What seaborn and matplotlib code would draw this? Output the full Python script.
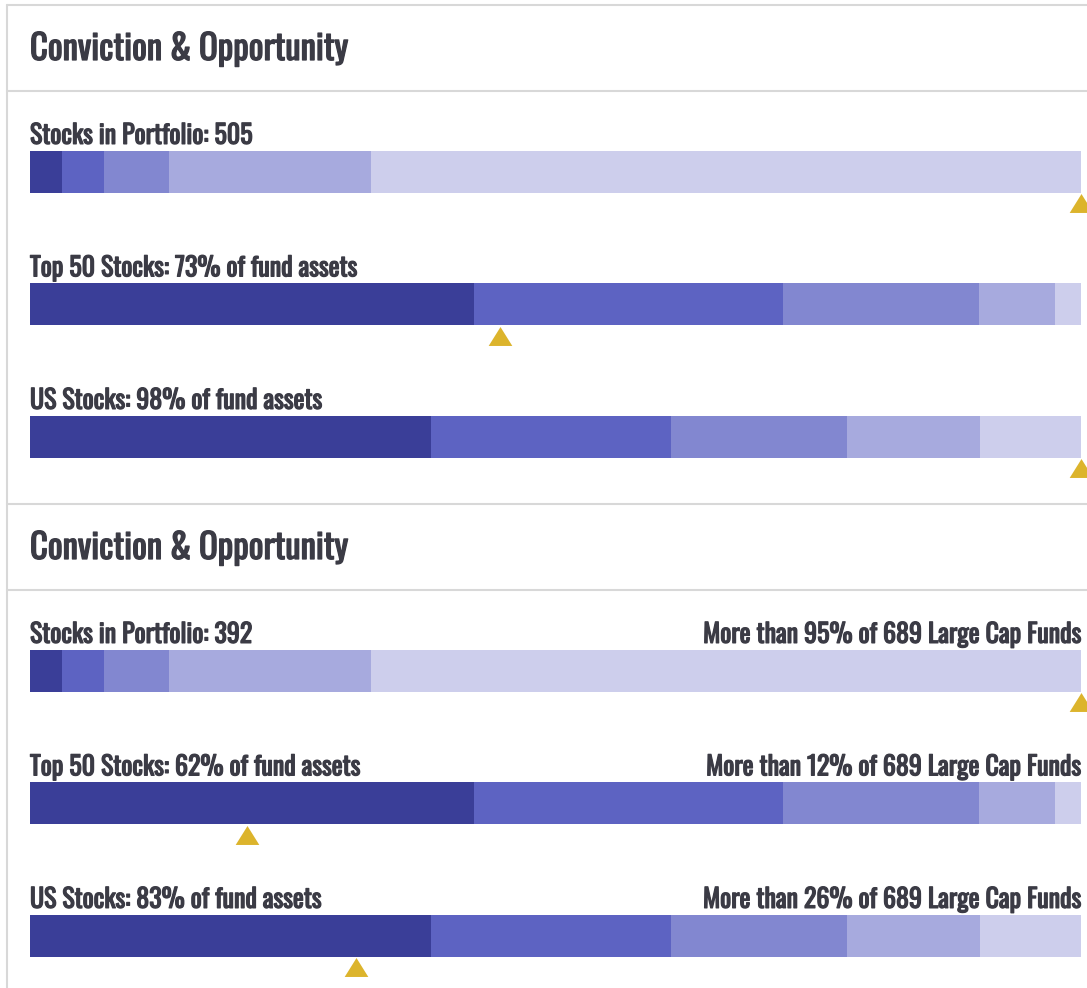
import matplotlib
matplotlib.use("Agg")
import matplotlib.pyplot as plt
from matplotlib.lines import Line2D
import matplotlib.patheffects as pe
import seaborn as sns
import pandas as pd
import numpy as np
from matplotlib import font_manager

sns.set_theme(style="white")
avail = {f.name for f in font_manager.fontManager.ttflist}
chosen = "DejaVu Sans"
for cand in ["Oswald", "Roboto Condensed", "Archivo Narrow", "PT Sans Narrow",
             "Liberation Sans Narrow"]:
    if cand in avail:
        chosen = cand
        break
plt.rcParams["font.family"] = [chosen, "DejaVu Sans"]

# ---------------- data ----------------
panel_titles = ["Conviction & Opportunity", "Conviction & Opportunity"]
rows = ["Stocks in Portfolio", "Top 50 Stocks", "US Stocks"]

# cumulative segment boundaries (% of bar length) per row
bounds_portfolio = [3.0, 7.0, 13.2, 32.4, 100.0]
bounds_top50 = [42.2, 71.6, 90.3, 97.5, 100.0]
bounds_us = [38.2, 61.0, 77.7, 90.4, 100.0]

# fund position markers (% of bar length)
markers_panel1 = [100.0, 44.7, 100.0]
markers_panel2 = [100.0, 20.6, 31.0]

labels_panel1 = ["Stocks in Portfolio: 505",
                 "Top 50 Stocks: 73% of fund assets",
                 "US Stocks: 98% of fund assets"]
labels_panel2 = ["Stocks in Portfolio: 392",
                 "Top 50 Stocks: 62% of fund assets",
                 "US Stocks: 83% of fund assets"]
right_labels_panel2 = ["More than 95% of 689 Large Cap Funds",
                       "More than 12% of 689 Large Cap Funds",
                       "More than 26% of 689 Large Cap Funds"]
right_labels_panel1 = ["", "", ""]

seg_colors = ["#3A3E98", "#5D63C2", "#8287D0", "#A7AADE", "#CDCEEC"]
marker_color = "#DCB42C"
text_color = "#3B3B45"
line_color = "#D8D8D8"

# ---------------- figure ----------------
W, H = 1087, 988
fig = plt.figure(figsize=(W / 100, H / 100), dpi=100)
fig.patch.set_facecolor("white")

def fx(px):
    return px / W

def fy(py):
    return 1 - py / H

bold = [pe.withStroke(linewidth=0.9, foreground=text_color)]

# frame / separators
fig.add_artist(Line2D([fx(7), fx(7)], [fy(5), fy(988)], color=line_color, lw=1.5))
for yy in [5, 91, 504, 590]:
    fig.add_artist(Line2D([fx(7), 1], [fy(yy), fy(yy)], color=line_color, lw=1.5))

# titles
for title, ty in zip(panel_titles, [49, 548]):
    fig.text(fx(30), fy(ty), title, fontsize=25, color=text_color,
             va="center", ha="left", path_effects=bold)

row_pitch = 132.5  # px between bar centres
bar_w = 42 / row_pitch

panels = [
    dict(first_center=171.5, labels=labels_panel1, right=right_labels_panel1,
         markers=markers_panel1),
    dict(first_center=670.5, labels=labels_panel2, right=right_labels_panel2,
         markers=markers_panel2),
]
bounds = np.array([bounds_portfolio, bounds_top50, bounds_us])

tri = [(-1, -0.8), (1, -0.8), (0, 0.8), (-1, -0.8)]

for p in panels:
    top_px = p["first_center"] - row_pitch / 2
    ylo, yhi = -0.5, 2.5
    bot_px = p["first_center"] + (yhi) * row_pitch
    bot_px = min(bot_px, H)
    yhi = (bot_px - p["first_center"]) / row_pitch
    ax = fig.add_axes([fx(30), fy(bot_px), fx(1081) - fx(30), (bot_px - top_px) / H])
    df = pd.DataFrame(bounds, columns=[f"s{i}" for i in range(5)])
    df["row"] = rows
    for k in range(4, -1, -1):
        sns.barplot(data=df, x=f"s{k}", y="row", order=rows, orient="h",
                    color=seg_colors[k], saturation=1, width=bar_w,
                    linewidth=0, ax=ax)
    ax.set_xlim(0, 100)
    ax.set_ylim(yhi, ylo)
    ax.axis("off")
    for i in range(3):
        ax.text(0, i - bar_w / 2 - 0.05, p["labels"][i], fontsize=18.7,
                color=text_color, ha="left", va="baseline", path_effects=bold)
        if p["right"][i]:
            ax.text(100, i - bar_w / 2 - 0.05, p["right"][i], fontsize=18.7,
                    color=text_color, ha="right", va="baseline", path_effects=bold)
    ypos = np.arange(3) + bar_w / 2 + 10.5 / row_pitch
    ax.scatter(p["markers"], ypos, marker=tri, s=290, color=marker_color,
               linewidths=0, clip_on=False, zorder=5)

fig.savefig("out.png", dpi=100, facecolor="white")
